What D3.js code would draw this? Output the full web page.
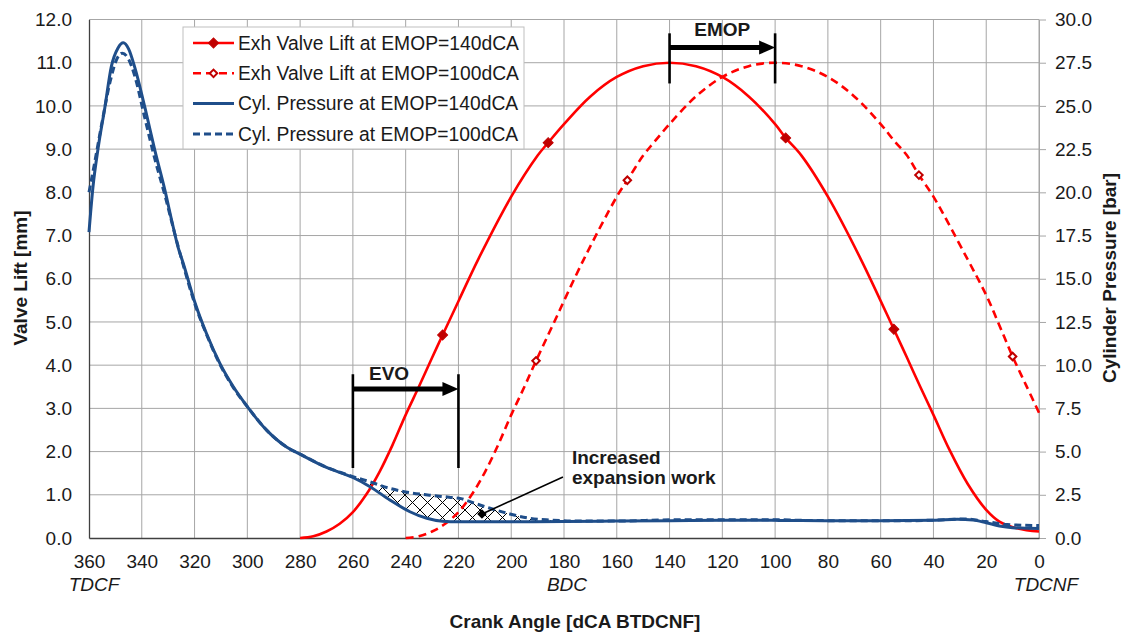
<!DOCTYPE html>
<html>
<head>
<meta charset="utf-8">
<script src="https://cdn.jsdelivr.net/npm/d3@7"></script>
<style>
  body { margin: 0; background: #fff; }
  svg { font-family: "Liberation Sans", Arial, sans-serif; }
</style>
</head>
<body>
<svg id="chart" width="1125" height="633"></svg>
<script>
// ---- data ----
const xTicks = [360, 340, 320, 300, 280, 260, 240, 220, 200, 180, 160, 140, 120, 100, 80, 60, 40, 20, 0];
const liftTicks = [0, 1, 2, 3, 4, 5, 6, 7, 8, 9, 10, 11, 12];
const pressTicks = [0, 2.5, 5, 7.5, 10, 12.5, 15, 17.5, 20, 22.5, 25, 27.5, 30];

// exhaust valve lift [mm], EMOP = 140 dCA
const lift140Angle = [280, 275, 270, 265, 260, 255, 250, 245, 240, 235, 230, 226, 220, 212.5, 200, 190, 186, 180, 170, 160, 150, 140, 130, 120, 110, 100, 96, 90, 80, 67.5, 55, 50, 45, 40, 34, 27, 20, 15, 8, 0];
const lift140Value = [0.0, 0.04, 0.15, 0.33, 0.6, 1.0, 1.52, 2.15, 2.85, 3.5, 4.17, 4.7, 5.48, 6.45, 7.9, 8.85, 9.15, 9.58, 10.22, 10.67, 10.92, 11.0, 10.92, 10.67, 10.22, 9.58, 9.26, 8.85, 7.9, 6.45, 4.83, 4.17, 3.5, 2.85, 2.05, 1.25, 0.65, 0.38, 0.22, 0.15];
// exhaust valve lift [mm], EMOP = 100 dCA
const lift100Angle = [240, 235, 230, 225, 220, 215, 210, 205, 200, 195, 190.6, 185, 172.5, 160, 156, 150, 146, 140, 130, 120, 110, 100, 90, 80, 70, 60, 55, 50, 45.5, 40, 27.5, 20, 15, 10, 5, 0];
const lift100Value = [0.0, 0.04, 0.15, 0.33, 0.6, 1.0, 1.52, 2.15, 2.85, 3.5, 4.1, 4.83, 6.45, 7.9, 8.28, 8.85, 9.15, 9.58, 10.22, 10.67, 10.92, 11.0, 10.92, 10.67, 10.22, 9.58, 9.2, 8.85, 8.4, 7.9, 6.5, 5.62, 4.92, 4.2, 3.55, 2.9];

// marker positions on the lift curves
const mark140Angle = [226, 186, 96, 55];
const mark140Value = [4.7, 9.15, 9.26, 4.83];
const mark100Angle = [190.6, 156, 45.5, 10];
const mark100Value = [4.1, 8.28, 8.4, 4.2];

// cylinder pressure [bar], EMOP = 140 dCA
const press140Angle = [360, 358.5, 356.5, 354, 351.5, 349, 347, 345, 342.6, 338.8, 335, 331.2, 328.7, 326.2, 324.3, 319.8, 315.4, 310.4, 305.3, 300, 292.7, 285, 280, 270, 260, 253.5, 246, 238.4, 232, 226, 220, 200, 180, 160, 140, 120, 100, 80, 60, 40, 31, 25, 20, 15, 10, 0];
const press140Value = [17.7, 20.3, 22.6, 24.9, 27.3, 28.35, 28.65, 28.3, 27.2, 24.9, 22.4, 20.1, 18.4, 16.8, 15.9, 13.6, 11.8, 10.1, 8.75, 7.6, 6.24, 5.25, 4.85, 4.08, 3.5, 2.97, 2.2, 1.52, 1.14, 0.97, 0.94, 0.94, 0.95, 0.98, 1.0, 1.02, 1.02, 1.0, 1.0, 1.02, 1.08, 1.04, 0.88, 0.7, 0.6, 0.55];
// cylinder pressure [bar], EMOP = 100 dCA
const press100Angle = [360, 358, 355, 352, 349.5, 347.4, 345, 342.6, 339, 335, 331, 328, 324.3, 319.8, 315.4, 310.4, 305.3, 300, 292.7, 285, 280, 270, 260, 253.5, 246, 238.4, 231, 223, 219, 215.6, 208, 200.5, 193, 185, 175, 160, 140, 120, 100, 90, 70, 50, 35, 28, 20, 12, 0];
const press100Value = [20.0, 21.6, 24.1, 26.4, 27.7, 28.05, 27.7, 26.7, 24.4, 21.9, 19.7, 17.9, 15.8, 13.5, 11.75, 10.05, 8.7, 7.6, 6.24, 5.25, 4.85, 4.1, 3.55, 3.25, 2.87, 2.62, 2.48, 2.35, 2.28, 2.1, 1.72, 1.39, 1.14, 1.04, 0.98, 0.98, 1.05, 1.06, 1.06, 1.02, 1.0, 1.0, 1.06, 1.1, 0.95, 0.78, 0.72];

const legendLabels = [
  "Exh Valve Lift at EMOP=140dCA",
  "Exh Valve Lift at EMOP=100dCA",
  "Cyl. Pressure at EMOP=140dCA",
  "Cyl. Pressure at EMOP=100dCA"
];

// ---- layout ----
const pL = 89, pR = 1039, pT = 19.5, pB = 538;
const RED = "#ff0000", DARKRED = "#c00000", BLUE = "#1f4e8a";
const TXT = "#1a1a1a", FS = 19;

const svg = d3.select("#chart");

const x = d3.scaleLinear().domain([360, 0]).range([pL, pR]);
const yL = d3.scaleLinear().domain([0, 12]).range([pB, pT]);
const yR = d3.scaleLinear().domain([0, 30]).range([pB, pT]);

const lift140 = d3.zip(lift140Angle, lift140Value);
const lift100 = d3.zip(lift100Angle, lift100Value);
const press140 = d3.zip(press140Angle, press140Value);
const press100 = d3.zip(press100Angle, press100Value);

// gridlines
svg.append("g").selectAll("line")
  .data(xTicks.filter(d => d !== 360))
  .join("line")
  .attr("x1", d => x(d)).attr("x2", d => x(d))
  .attr("y1", pT).attr("y2", pB)
  .attr("stroke", "#a6a6a6").attr("stroke-width", 1);

svg.append("g").selectAll("line")
  .data(liftTicks.filter(d => d !== 0))
  .join("line")
  .attr("x1", pL).attr("x2", pR)
  .attr("y1", d => yL(d)).attr("y2", d => yL(d))
  .attr("stroke", "#a6a6a6").attr("stroke-width", 1);

// axes
const axL = svg.append("g")
  .attr("transform", `translate(${pL},0)`)
  .call(d3.axisLeft(yL).tickValues(liftTicks).tickFormat(d3.format(".1f"))
    .tickSize(0).tickSizeOuter(0).tickPadding(17));
axL.select(".domain").attr("stroke", "#404040").attr("stroke-width", 1.3);

const axR = svg.append("g")
  .attr("transform", `translate(${pR},0)`)
  .call(d3.axisRight(yR).tickValues(pressTicks).tickFormat(d3.format(".1f"))
    .tickSize(7).tickSizeOuter(0).tickPadding(9));
axR.select(".domain").attr("stroke", "#a6a6a6");
axR.selectAll(".tick line").attr("stroke", "#a6a6a6");

const axB = svg.append("g")
  .attr("transform", `translate(0,${pB})`)
  .call(d3.axisBottom(x).tickValues(xTicks).tickFormat(d3.format("d"))
    .tickSize(0).tickSizeOuter(0).tickPadding(17));
axB.select(".domain").attr("stroke", "#404040").attr("stroke-width", 1.3);

[axL, axR, axB].forEach(a => {
  a.attr("font-family", null).attr("font-size", null);
  a.selectAll("text").attr("font-size", FS).attr("fill", TXT);
});

// italic position labels under the x axis
const posLabels = [[360, "TDCF", 5], [180, "BDC", 3], [0, "TDCNF", 7]];
svg.append("g").selectAll("text")
  .data(posLabels)
  .join("text")
  .attr("x", d => x(d[0]) + d[2]).attr("y", 590.5)
  .attr("text-anchor", "middle")
  .attr("font-style", "italic")
  .attr("font-size", FS).attr("fill", TXT)
  .text(d => d[1]);

// axis titles
svg.append("text")
  .attr("x", 575).attr("y", 628)
  .attr("text-anchor", "middle")
  .attr("font-weight", "bold").attr("font-size", FS).attr("fill", TXT)
  .text("Crank Angle [dCA BTDCNF]");
svg.append("text")
  .attr("transform", "translate(26.5,278) rotate(-90)")
  .attr("text-anchor", "middle")
  .attr("font-weight", "bold").attr("font-size", FS).attr("fill", TXT)
  .text("Valve Lift [mm]");
svg.append("text")
  .attr("transform", "translate(1116,278) rotate(-90)")
  .attr("text-anchor", "middle")
  .attr("font-weight", "bold").attr("font-size", FS).attr("fill", TXT)
  .text("Cylinder Pressure [bar]");

// cross-hatched region between the two pressure curves
const defs = svg.append("defs");
defs.append("pattern")
  .attr("id", "xhatch")
  .attr("patternUnits", "userSpaceOnUse")
  .attr("width", 15).attr("height", 15)
  .append("path")
  .attr("d", "M0,0L15,15M15,0L0,15")
  .attr("stroke", "#000").attr("stroke-width", 1);

defs.append("clipPath").attr("id", "aboveSolid")
  .append("path")
  .attr("d", d3.area()
    .x(d => x(d[0])).y0(pT).y1(d => yR(d[1]))
    .curve(d3.curveMonotoneX)(press140));

svg.append("path")
  .attr("clip-path", "url(#aboveSolid)")
  .attr("fill", "url(#xhatch)")
  .attr("d", d3.area()
    .x(d => x(d[0])).y0(pB).y1(d => yR(d[1]))
    .curve(d3.curveMonotoneX)(press100.filter(d => d[0] <= 260 && d[0] >= 185)));

// curves
const liftLine = d3.line().x(d => x(d[0])).y(d => yL(d[1])).curve(d3.curveCatmullRom.alpha(0.5));
const pressLine = d3.line().x(d => x(d[0])).y(d => yR(d[1])).curve(d3.curveMonotoneX);

svg.append("path").attr("d", liftLine(lift140))
  .attr("fill", "none").attr("stroke", RED).attr("stroke-width", 2.6);
svg.append("path").attr("d", liftLine(lift100))
  .attr("fill", "none").attr("stroke", RED).attr("stroke-width", 2.6)
  .attr("stroke-dasharray", "8,5");

const diamond = d3.symbol(d3.symbolSquare);
svg.append("g").selectAll("path")
  .data(d3.zip(mark140Angle, mark140Value))
  .join("path")
  .attr("d", diamond.size(50)())
  .attr("transform", d => `translate(${x(d[0])},${yL(d[1])}) rotate(45)`)
  .attr("fill", DARKRED).attr("stroke", DARKRED).attr("stroke-width", 1);
svg.append("g").selectAll("path")
  .data(d3.zip(mark100Angle, mark100Value))
  .join("path")
  .attr("d", diamond.size(28)())
  .attr("transform", d => `translate(${x(d[0])},${yL(d[1])}) rotate(45)`)
  .attr("fill", "#fff").attr("stroke", DARKRED).attr("stroke-width", 2);

svg.append("path").attr("d", pressLine(press140))
  .attr("fill", "none").attr("stroke", BLUE).attr("stroke-width", 3);
svg.append("path").attr("d", pressLine(press100))
  .attr("fill", "none").attr("stroke", BLUE).attr("stroke-width", 3)
  .attr("stroke-dasharray", "7,4");

// bracket arrows (EMOP, EVO)
function bracketArrow(a1, a2, vTop, vBot, vArrow) {
  const g = svg.append("g");
  [a1, a2].forEach(a => {
    g.append("line")
      .attr("x1", x(a)).attr("x2", x(a))
      .attr("y1", yL(vTop)).attr("y2", yL(vBot))
      .attr("stroke", "#000").attr("stroke-width", 2.6);
  });
  const ya = yL(vArrow), xe = x(a2);
  g.append("line")
    .attr("x1", x(a1)).attr("x2", xe - 12)
    .attr("y1", ya).attr("y2", ya)
    .attr("stroke", "#000").attr("stroke-width", 5);
  g.append("path")
    .attr("d", `M${xe},${ya}L${xe - 16},${ya - 7}L${xe - 16},${ya + 7}Z`)
    .attr("fill", "#000");
}
bracketArrow(140, 100, 11.68, 10.52, 11.35);
bracketArrow(260, 220, 3.79, 1.62, 3.45);

svg.append("text")
  .attr("x", x(120)).attr("y", yL(11.77)).attr("dy", "0.35em")
  .attr("text-anchor", "middle")
  .attr("font-weight", "bold").attr("font-size", FS).attr("fill", TXT)
  .text("EMOP");
svg.append("text")
  .attr("x", x(246.3)).attr("y", yL(3.82)).attr("dy", "0.35em")
  .attr("text-anchor", "middle")
  .attr("font-weight", "bold").attr("font-size", FS).attr("fill", TXT)
  .text("EVO");

// "Increased expansion work" callout
svg.append("line")
  .attr("x1", x(211.1)).attr("y1", yL(0.555))
  .attr("x2", x(180.4)).attr("y2", yL(1.41))
  .attr("stroke", "#000").attr("stroke-width", 1.6);
svg.append("path")
  .attr("d", d3.symbol(d3.symbolSquare).size(45)())
  .attr("transform", `translate(${x(211.1)},${yL(0.555)}) rotate(45)`)
  .attr("fill", "#000");
const note = svg.append("text")
  .attr("font-weight", "bold").attr("font-size", FS).attr("fill", TXT);
note.append("tspan").attr("x", x(177)).attr("y", yL(1.87)).attr("dy", "0.35em").text("Increased");
note.append("tspan").attr("x", x(177)).attr("y", yL(1.41)).attr("dy", "0.35em").text("expansion work");

// legend
const lg = svg.append("g");
lg.append("rect")
  .attr("x", 183).attr("y", 27).attr("width", 341).attr("height", 122)
  .attr("fill", "#fff").attr("stroke", "#bfbfbf").attr("stroke-width", 1);
const lgStyle = [
  { color: RED, dash: null, mark: "fill" },
  { color: RED, dash: "8,5", mark: "open" },
  { color: BLUE, dash: null, mark: null },
  { color: BLUE, dash: "7,4", mark: null }
];
legendLabels.forEach((label, i) => {
  const yy = 43 + i * 30.3;
  const s = lgStyle[i];
  lg.append("line")
    .attr("x1", 193).attr("x2", 234).attr("y1", yy).attr("y2", yy)
    .attr("stroke", s.color).attr("stroke-width", i < 2 ? 2.6 : 3)
    .attr("stroke-dasharray", s.dash);
  if (s.mark === "fill") {
    lg.append("path").attr("d", diamond.size(50)())
      .attr("transform", `translate(213.5,${yy}) rotate(45)`)
      .attr("fill", DARKRED).attr("stroke", DARKRED);
  } else if (s.mark === "open") {
    lg.append("path").attr("d", diamond.size(28)())
      .attr("transform", `translate(213.5,${yy}) rotate(45)`)
      .attr("fill", "#fff").attr("stroke", DARKRED).attr("stroke-width", 2);
  }
  lg.append("text")
    .attr("x", 238).attr("y", yy).attr("dy", "0.35em")
    .attr("font-size", 19.3).attr("fill", TXT)
    .text(label);
});
</script>
</body>
</html>
